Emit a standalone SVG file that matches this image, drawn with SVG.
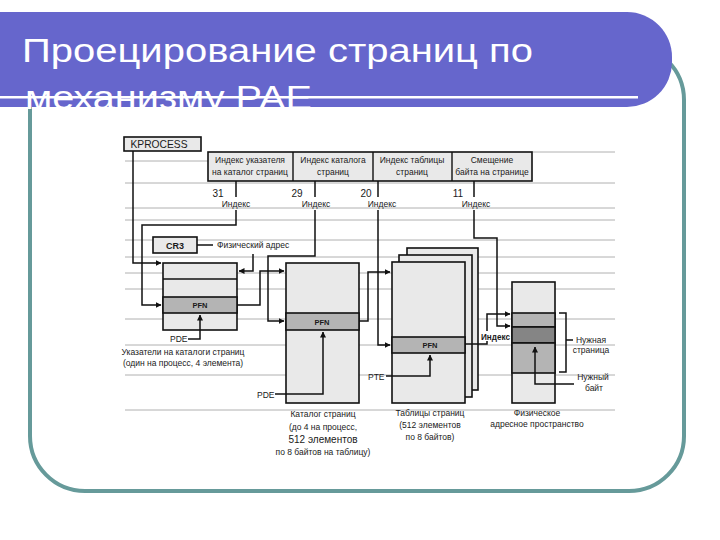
<svg xmlns="http://www.w3.org/2000/svg" width="720" height="540" viewBox="0 0 720 540">
<style>
.t{font-family:"Liberation Sans",Arial,sans-serif;font-size:8.5px;fill:#1a1a1a}
.c{text-anchor:middle}
.b{font-weight:bold}
.box{fill:#e9e9e9;stroke:#111;stroke-width:1.6}
.row{fill:#b4b4b4;stroke:#111;stroke-width:1.6}
.dark{fill:#858585;stroke:#111;stroke-width:1.6}
.div{stroke:#111;stroke-width:1.4;fill:none}
.conn{fill:none;stroke:#111;stroke-width:1.5}
.scan{stroke:#b0b0b0;stroke-width:1}
.ttl{font-family:"Liberation Sans",Arial,sans-serif;font-size:34px;fill:#fff}
</style>
<defs>
<marker id="ah" markerWidth="6" markerHeight="6" refX="5.5" refY="3" orient="auto" markerUnits="userSpaceOnUse">
<path d="M0,0 L6,3 L0,6 z" fill="#111"/>
</marker>
</defs>
<rect width="720" height="540" fill="#fff"/>
<g id="frame">
<rect x="30" y="45" width="654" height="446" rx="55" ry="55" fill="#fff" stroke="#669a9a" stroke-width="4"/>
</g>
<g id="title">
<path d="M-10,12 H627 A45,45 0 0 1 672,57 V62 A45,45 0 0 1 627,107 H-10 Z" fill="#6666cc"/>
<text class="ttl" x="22" y="62" textLength="511" lengthAdjust="spacingAndGlyphs">Проецирование страниц по</text>
<text class="ttl" x="25" y="109" textLength="287" lengthAdjust="spacingAndGlyphs">механизму PAE</text>
<rect x="0" y="96" width="638" height="2.5" fill="#fff"/>
</g>
<g id="scanlines">
<line class="scan" x1="125" y1="161" x2="208" y2="161"/>
<line class="scan" x1="532" y1="152" x2="615" y2="152"/>
<line class="scan" x1="125" y1="183" x2="615" y2="183"/>
<line class="scan" x1="125" y1="208" x2="615" y2="208"/>
<line class="scan" x1="125" y1="220" x2="615" y2="220"/>
<line class="scan" x1="125" y1="240" x2="615" y2="240"/>
<line class="scan" x1="125" y1="257" x2="615" y2="257"/>
<line class="scan" x1="125" y1="273" x2="615" y2="273"/>
<line class="scan" x1="125" y1="289" x2="615" y2="289"/>
<line class="scan" x1="125" y1="319" x2="615" y2="319"/>
<line class="scan" x1="125" y1="345" x2="615" y2="345"/>
<line class="scan" x1="125" y1="375" x2="615" y2="375"/>
<line class="scan" x1="125" y1="410" x2="615" y2="410"/>
</g>
<g id="kprocess">
<rect class="box" x="124" y="137" width="77" height="14"/>
<text class="t" x="159" y="148" text-anchor="middle" style="font-size:10.5px" textLength="57" lengthAdjust="spacingAndGlyphs">KPROCESS</text>
</g>
<g id="address">
<rect class="box" x="208" y="152" width="324" height="29" stroke-width="2"/>
<line class="div" x1="293" y1="152" x2="293" y2="181"/>
<line class="div" x1="373" y1="152" x2="373" y2="181"/>
<line class="div" x1="452" y1="152" x2="452" y2="181"/>
<text class="t c" x="250" y="163">Индекс указателя</text>
<text class="t c" x="250" y="175">на каталог страниц</text>
<text class="t c" x="333" y="163">Индекс каталога</text>
<text class="t c" x="333" y="175">страниц</text>
<text class="t c" x="412" y="163">Индекс таблицы</text>
<text class="t c" x="412" y="175">страниц</text>
<text class="t c" x="492" y="163">Смещение</text>
<text class="t c" x="492" y="175">байта на странице</text>
<text class="t c" x="218" y="197" style="font-size:10px">31</text>
<text class="t c" x="297" y="197" style="font-size:10px">29</text>
<text class="t c" x="366" y="197" style="font-size:10px">20</text>
<text class="t c" x="458" y="197" style="font-size:10px">11</text>
<text class="t c" x="236" y="207">Индекс</text>
<text class="t c" x="316" y="207">Индекс</text>
<text class="t c" x="382" y="207">Индекс</text>
<text class="t c" x="476" y="207">Индекс</text>
</g>
<g id="cr3">
<rect class="box" x="153" y="237" width="44" height="16" stroke-width="2.2"/>
<text class="t c b" x="175" y="248.5" style="font-size:9px">CR3</text>
<text class="t" x="217" y="248">Физический адрес</text>
</g>
<g id="pdpt">
<rect class="box" x="163" y="263" width="74" height="67"/>
<line class="div" x1="163" y1="279" x2="237" y2="279"/>
<rect class="row" x="163" y="297" width="74" height="16"/>
<text class="t c b" x="200" y="308" style="font-size:7.5px">PFN</text>
<text class="t" x="170" y="342">PDE</text>
<text class="t c" x="183" y="355">Указатели на каталоги страниц</text>
<text class="t c" x="183" y="366">(один на процесс, 4 элемента)</text>
</g>
<g id="pagedir">
<rect class="box" x="286" y="263" width="73" height="140"/>
<rect class="row" x="286" y="313" width="73" height="17"/>
<text class="t c b" x="322" y="325" style="font-size:7.5px">PFN</text>
<text class="t" x="257" y="398">PDE</text>
<text class="t c" x="323" y="417">Каталог страниц</text>
<text class="t c" x="323" y="430">(до 4 на процесс,</text>
<text class="t c" x="323" y="443" style="font-size:10px">512 элементов</text>
<text class="t c" x="323" y="455">по 8 байтов на таблицу)</text>
</g>
<g id="pagetables">
<rect class="box" x="407" y="248" width="71" height="142"/>
<rect class="box" x="399" y="255" width="73" height="142"/>
<rect class="box" x="392" y="262" width="73" height="141"/>
<rect class="row" x="392" y="337" width="73" height="16"/>
<text class="t c b" x="430" y="348" style="font-size:7.5px">PFN</text>
<text class="t" x="368" y="380">PTE</text>
<text class="t c" x="430" y="416">Таблицы страниц</text>
<text class="t c" x="430" y="428">(512 элементов</text>
<text class="t c" x="430" y="440">по 8 байтов)</text>
</g>
<g id="physmem">
<rect class="box" x="512" y="282" width="43" height="121"/>
<rect class="row" x="512" y="313" width="43" height="14"/>
<rect class="dark" x="512" y="327" width="43" height="16"/>
<rect class="row" x="512" y="343" width="43" height="30"/>
<text class="t c" x="537" y="416">Физическое</text>
<text class="t c" x="537" y="427">адресное пространство</text>
<text class="t c" x="591" y="343">Нужная</text>
<text class="t c" x="591" y="353">страница</text>
<text class="t c" x="593" y="380">Нужный</text>
<text class="t c" x="594" y="391">байт</text>
</g>
<g id="connectors">
<path class="conn" d="M133,151 V263 H161" marker-end="url(#ah)"/>
<path class="conn" d="M236,181 V197 M236,210 V225 H142 V305 H161" marker-end="url(#ah)"/>
<path class="conn" d="M315,181 V197 M315,210 V256 H268 V321 H284" marker-end="url(#ah)"/>
<path class="conn" d="M378,181 V197 M378,210 V345 H390" marker-end="url(#ah)"/>
<path class="conn" d="M474,181 V197 M474,210 V238 H497 V326 H510" marker-end="url(#ah)"/>
<path class="conn" d="M197,245 H213"/>
<path class="conn" d="M253,254 V271 H239" marker-end="url(#ah)"/>
<path class="conn" d="M237,305 H260 V271 H284" marker-end="url(#ah)"/>
<path class="conn" d="M359,321 H368 V272 H390" marker-end="url(#ah)"/>
<path class="conn" d="M465,344 H487 V314 H510" marker-end="url(#ah)"/>
<path class="conn" d="M188,339 H200 V315" marker-end="url(#ah)"/>
<path class="conn" d="M275,394 H323 V332" marker-end="url(#ah)"/>
<path class="conn" d="M386,376 H430 V355" marker-end="url(#ah)"/>
<path class="conn" d="M574,384 H535 V347" marker-end="url(#ah)"/>
<path class="conn" d="M559,313 H566 V372 H559 M566,340 H573"/>
</g>
<g id="index-label">
<rect x="481" y="331" width="29" height="10" fill="#fff"/>
<text class="t b" x="481" y="339.5" style="font-size:8.5px" textLength="29" lengthAdjust="spacingAndGlyphs">Индекс</text>
</g>
</svg>
